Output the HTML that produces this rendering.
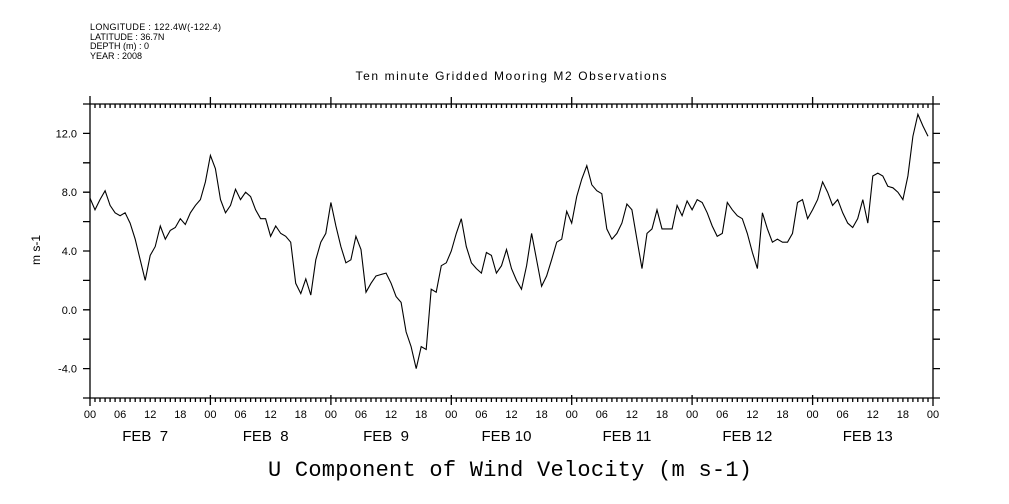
<!DOCTYPE html>
<html><head><meta charset="utf-8"><style>
body{margin:0;background:#fff;width:1009px;height:504px;overflow:hidden}
svg{display:block}
text{font-family:"Liberation Sans",sans-serif;fill:#000}
</style></head><body>
<svg id="chart" width="1009" height="504" viewBox="0 0 1009 504">
<g font-size="9">
<text x="90" y="30" textLength="131">LONGITUDE : 122.4W(-122.4)</text>
<text x="90" y="40">LATITUDE : 36.7N</text>
<text x="90" y="49">DEPTH (m) : 0</text>
<text x="90" y="59">YEAR : 2008</text>
</g>
<text x="511" y="80" text-anchor="middle" font-size="12" textLength="311">Ten minute Gridded Mooring M2 Observations</text>
<text x="510" y="476" text-anchor="middle" font-size="22" style="font-family:'Liberation Mono',monospace" textLength="484">U Component of Wind Velocity (m s-1)</text>
<text transform="translate(40,250) rotate(-90)" text-anchor="middle" font-size="12">m s-1</text>
<g id="axes"></g>
<g id="series"></g>
</svg>
<script>
const hours=[0,1,2,3,4,5,6,7,8,9,10,11,12,13,14,15,16,17,18,19,20,21,22,23,24,25,26,27,28,29,30,31,32,33,34,35,36,37,38,39,40,41,42,43,44,45,46,47,48,49,50,51,52,53,54,55,56,57,58,59,60,61,62,63,64,65,66,67,68,69,70,71,72,73,74,75,76,77,78,79,80,81,82,83,84,85,86,87,88,89,90,91,92,93,94,95,96,97,98,99,100,101,102,103,104,105,106,107,108,109,110,111,112,113,114,115,116,117,118,119,120,121,122,123,124,125,126,127,128,129,130,131,132,133,134,135,136,137,138,139,140,141,142,143,144,145,146,147,148,149,150,151,152,153,154,155,156,157,158,159,160,161,162,163,164,165,166,167];
const uWind=[7.6,6.8,7.5,8.1,7.1,6.6,6.4,6.6,5.9,4.8,3.4,2.0,3.7,4.3,5.7,4.8,5.4,5.6,6.2,5.8,6.6,7.1,7.5,8.7,10.5,9.6,7.5,6.6,7.1,8.2,7.5,8.0,7.7,6.8,6.2,6.2,5.0,5.7,5.2,5.0,4.6,1.8,1.1,2.1,1.0,3.4,4.6,5.2,7.3,5.7,4.3,3.2,3.4,5.0,4.1,1.2,1.8,2.3,2.4,2.5,1.8,0.9,0.5,-1.5,-2.5,-4.0,-2.5,-2.7,1.4,1.2,3.0,3.2,4.0,5.2,6.2,4.3,3.2,2.8,2.5,3.9,3.7,2.5,3.0,4.1,2.8,2.0,1.4,3.0,5.2,3.4,1.6,2.3,3.4,4.6,4.8,6.7,5.9,7.7,8.9,9.8,8.5,8.1,7.9,5.5,4.8,5.2,5.9,7.2,6.8,4.8,2.8,5.2,5.5,6.8,5.5,5.5,5.5,7.1,6.4,7.4,6.8,7.5,7.3,6.6,5.7,5.0,5.2,7.3,6.8,6.4,6.2,5.2,3.9,2.8,6.6,5.5,4.6,4.8,4.6,4.6,5.2,7.3,7.5,6.2,6.8,7.5,8.7,8.0,7.1,7.5,6.6,5.9,5.6,6.2,7.5,5.9,9.1,9.3,9.1,8.4,8.3,8.0,7.5,9.1,11.8,13.3,12.5,11.8];
const yTicks=[-4,0,4,8,12];
const yTickLabels=["-4.0","0.0","4.0","8.0","12.0"];
const hourLabels=["00","06","12","18"];
const dayLabels=["FEB  7","FEB  8","FEB  9","FEB 10","FEB 11","FEB 12","FEB 13"];
const X0=90,X1=933,Y0=104,Y1=398,YMIN=-6,YMAX=14,HMAX=168;
const sx=h=>X0+(X1-X0)*h/HMAX;
const sy=v=>Y1-(Y1-Y0)*(v-YMIN)/(YMAX-YMIN);
const NS="http://www.w3.org/2000/svg";
const axes=document.getElementById('axes');
function mk(tag,attrs,parent){const e=document.createElementNS(NS,tag);for(const k in attrs)e.setAttribute(k,attrs[k]);parent.appendChild(e);return e;}
let d=`M${X0},${Y0}H${X1}M${X0},${Y1}H${X1}M${X0},${Y0-8}V${Y1+8}M${X1},${Y0-8}V${Y1+8}`;
for(let h=0;h<=HMAX;h++){const x=sx(h).toFixed(1);
 if(h%24===0){d+=`M${x},${Y0-7}V${Y0+4}M${x},${Y1-3}V${Y1+7}`;}
 else{d+=`M${x},${Y0}V${Y0+4}M${x},${Y1}V${Y1+4}`;}}
for(let v=-6;v<=14;v+=2){const y=sy(v).toFixed(1);d+=`M${X0-7},${y}H${X0}M${X1},${y}H${X1+7}`;}
const ap=mk('path',{d:d,stroke:'#000','stroke-width':1.3,fill:'none'},axes);


yTicks.forEach((v,i)=>{const t=mk('text',{x:X0-13,y:sy(v)+4,'text-anchor':'end','font-size':11},axes);t.textContent=yTickLabels[i];

});
for(let h=0;h<=HMAX;h+=6){const t=mk('text',{x:sx(h),y:418,'text-anchor':'middle','font-size':11},axes);t.textContent=hourLabels[(h/6)%4];

}
dayLabels.forEach((s,i)=>{const t=mk('text',{x:sx(i*24+11),y:441,'text-anchor':'middle','font-size':15,'xml:space':'preserve'},axes);t.style.whiteSpace='pre';t.textContent=s;

});
const pts=hours.map((h,i)=>sx(h).toFixed(1)+','+sy(uWind[i]).toFixed(1)).join(' ');
const pl=mk('polyline',{points:pts,fill:'none',stroke:'#000','stroke-width':1.1},document.getElementById('series'));


</script>
</body></html>
